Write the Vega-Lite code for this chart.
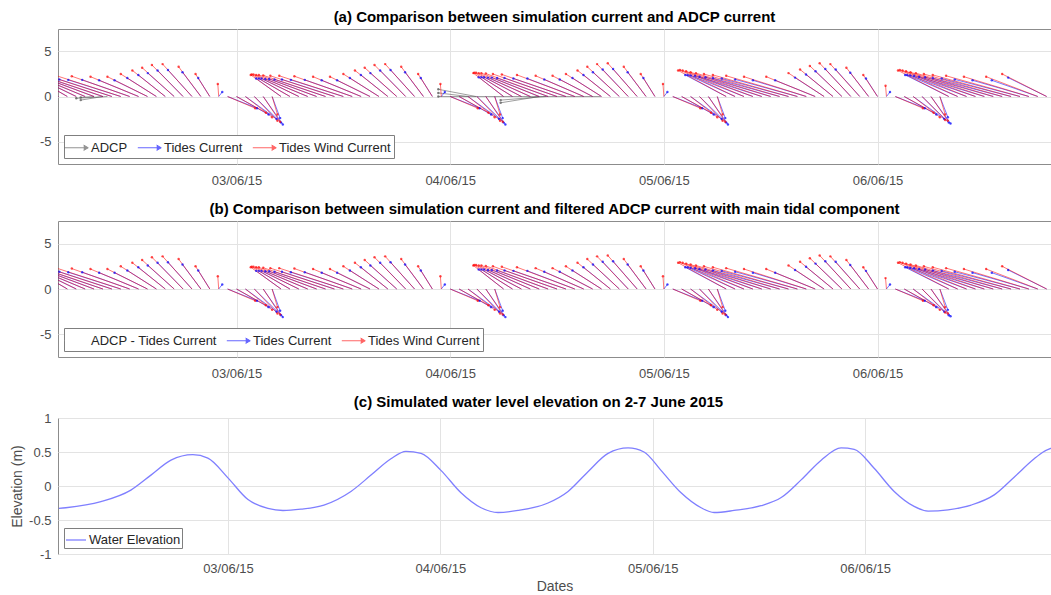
{
"$schema": "https://vega.github.io/schema/vega-lite/v6.json",
"background": "white",
"padding": {"left": 10, "top": 9, "right": 0, "bottom": 0},
"spacing": 13,
"config": {
 "font": "Liberation Sans",
 "view": {"stroke": "#8c8c8c", "strokeWidth": 1},
 "axis": {"labelFont": "Liberation Sans", "labelFontSize": 13, "labelColor": "#4d4d4d", "domain": false, "ticks": false, "grid": true, "gridColor": "#e3e3e3", "titleFont": "Liberation Sans", "titleFontSize": 14, "titleFontWeight": "normal", "titleColor": "#4d4d4d"},
 "axisX": {"labelPadding": 10.5},
 "axisY": {"labelPadding": 7, "titlePadding": 4},
 "title": {"fontSize": 15, "font": "Liberation Sans", "fontWeight": "bold", "color": "#000000", "offset": 4, "anchor": "middle"},
 "legend": {"labelFont": "Liberation Sans", "labelFontSize": 13, "labelColor": "#262626", "strokeColor": "#7f7f7f", "fillColor": "white", "padding": 3, "orient": "bottom-left", "offset": 6, "direction": "horizontal", "title": null, "symbolType": "M-1.3,0L1.3,0M0.8,-0.3L1.3,0L0.8,0.3", "symbolSize": 324, "symbolStrokeWidth": 1, "columnPadding": 7, "labelOffset": 5}
},
"datasets": {
 "arrows": [
  {"s":"ADCP","t":"2015-06-02T09:30","te":"2015-06-02T06:00","v":-0.2},
  {"s":"ADCP","t":"2015-06-02T09:00","te":"2015-06-02T06:30","v":-0.4},
  {"s":"ADCP","t":"2015-06-02T08:00","te":"2015-06-02T06:30","v":-0.1},
  {"s":"ADCP","t":"2015-06-04T02:54","te":"2015-06-03T22:40","v":0.8},
  {"s":"ADCP","t":"2015-06-04T02:00","te":"2015-06-03T22:40","v":0.4},
  {"s":"ADCP","t":"2015-06-04T10:48","te":"2015-06-04T05:40","v":-0.4},
  {"s":"ADCP","t":"2015-06-04T10:00","te":"2015-06-04T05:40","v":-0.7},
  {"s":"ADCP","t":"2015-06-04T16:54","te":"2015-06-03T22:40","v":0},

  {"s":"Tides Current","t":"2015-06-02T04:00","te":"2015-06-02T01:12","v":2.0},
  {"s":"Tides Current","t":"2015-06-02T05:00","te":"2015-06-02T01:30","v":2.0},
  {"s":"Tides Current","t":"2015-06-02T06:00","te":"2015-06-02T01:48","v":2.0},
  {"s":"Tides Current","t":"2015-06-02T07:00","te":"2015-06-02T02:14","v":1.95},
  {"s":"Tides Current","t":"2015-06-02T08:00","te":"2015-06-02T02:40","v":1.95},
  {"s":"Tides Current","t":"2015-06-02T09:00","te":"2015-06-02T03:16","v":1.9},
  {"s":"Tides Current","t":"2015-06-02T10:00","te":"2015-06-02T04:06","v":1.9},
  {"s":"Tides Current","t":"2015-06-02T11:00","te":"2015-06-02T05:06","v":1.85},
  {"s":"Tides Current","t":"2015-06-02T12:00","te":"2015-06-02T06:40","v":1.85},
  {"s":"Tides Current","t":"2015-06-02T13:00","te":"2015-06-02T08:34","v":1.8},
  {"s":"Tides Current","t":"2015-06-02T14:00","te":"2015-06-02T10:18","v":1.8},
  {"s":"Tides Current","t":"2015-06-02T15:00","te":"2015-06-02T11:44","v":2.05},
  {"s":"Tides Current","t":"2015-06-02T16:00","te":"2015-06-02T12:58","v":2.4},
  {"s":"Tides Current","t":"2015-06-02T17:00","te":"2015-06-02T14:02","v":2.6},
  {"s":"Tides Current","t":"2015-06-02T18:00","te":"2015-06-02T15:08","v":2.9},
  {"s":"Tides Current","t":"2015-06-02T19:00","te":"2015-06-02T16:18","v":2.95},
  {"s":"Tides Current","t":"2015-06-02T20:00","te":"2015-06-02T17:56","v":2.7},
  {"s":"Tides Current","t":"2015-06-02T21:00","te":"2015-06-02T19:42","v":2.05},
  {"s":"Tides Current","t":"2015-06-02T22:00","te":"2015-06-02T22:24","v":0.5},
  {"s":"Tides Current","t":"2015-06-02T23:00","te":"2015-06-03T02:18","v":-1.3},
  {"s":"Tides Current","t":"2015-06-03T00:00","te":"2015-06-03T03:36","v":-2.0},
  {"s":"Tides Current","t":"2015-06-03T01:00","te":"2015-06-03T04:30","v":-2.5},
  {"s":"Tides Current","t":"2015-06-03T02:00","te":"2015-06-03T05:00","v":-2.9},
  {"s":"Tides Current","t":"2015-06-03T03:00","te":"2015-06-03T05:12","v":-3.1},
  {"s":"Tides Current","t":"2015-06-03T04:00","te":"2015-06-03T04:54","v":-2.4},
  {"s":"Tides Current","t":"2015-06-03T05:00","te":"2015-06-03T02:12","v":2.0},
  {"s":"Tides Current","t":"2015-06-03T06:00","te":"2015-06-03T02:30","v":2.0},
  {"s":"Tides Current","t":"2015-06-03T07:00","te":"2015-06-03T02:48","v":2.0},
  {"s":"Tides Current","t":"2015-06-03T08:00","te":"2015-06-03T03:14","v":1.95},
  {"s":"Tides Current","t":"2015-06-03T09:00","te":"2015-06-03T03:40","v":1.95},
  {"s":"Tides Current","t":"2015-06-03T10:00","te":"2015-06-03T04:16","v":1.9},
  {"s":"Tides Current","t":"2015-06-03T11:00","te":"2015-06-03T05:06","v":1.9},
  {"s":"Tides Current","t":"2015-06-03T12:00","te":"2015-06-03T06:06","v":1.85},
  {"s":"Tides Current","t":"2015-06-03T13:00","te":"2015-06-03T07:40","v":1.85},
  {"s":"Tides Current","t":"2015-06-03T14:00","te":"2015-06-03T09:34","v":1.8},
  {"s":"Tides Current","t":"2015-06-03T15:00","te":"2015-06-03T11:18","v":1.8},
  {"s":"Tides Current","t":"2015-06-03T16:00","te":"2015-06-03T12:44","v":2.05},
  {"s":"Tides Current","t":"2015-06-03T17:00","te":"2015-06-03T13:58","v":2.4},
  {"s":"Tides Current","t":"2015-06-03T18:00","te":"2015-06-03T15:02","v":2.6},
  {"s":"Tides Current","t":"2015-06-03T19:00","te":"2015-06-03T16:08","v":2.9},
  {"s":"Tides Current","t":"2015-06-03T20:00","te":"2015-06-03T17:18","v":2.95},
  {"s":"Tides Current","t":"2015-06-03T21:00","te":"2015-06-03T18:56","v":2.7},
  {"s":"Tides Current","t":"2015-06-03T22:00","te":"2015-06-03T20:42","v":2.05},
  {"s":"Tides Current","t":"2015-06-03T23:00","te":"2015-06-03T23:24","v":0.5},
  {"s":"Tides Current","t":"2015-06-04T00:00","te":"2015-06-04T03:18","v":-1.3},
  {"s":"Tides Current","t":"2015-06-04T01:00","te":"2015-06-04T04:36","v":-2.0},
  {"s":"Tides Current","t":"2015-06-04T02:00","te":"2015-06-04T05:30","v":-2.5},
  {"s":"Tides Current","t":"2015-06-04T03:00","te":"2015-06-04T06:00","v":-2.9},
  {"s":"Tides Current","t":"2015-06-04T04:00","te":"2015-06-04T06:12","v":-3.1},
  {"s":"Tides Current","t":"2015-06-04T05:00","te":"2015-06-04T05:54","v":-2.4},
  {"s":"Tides Current","t":"2015-06-04T06:00","te":"2015-06-04T03:12","v":2.15},
  {"s":"Tides Current","t":"2015-06-04T07:00","te":"2015-06-04T03:30","v":2.15},
  {"s":"Tides Current","t":"2015-06-04T08:00","te":"2015-06-04T03:48","v":2.15},
  {"s":"Tides Current","t":"2015-06-04T09:00","te":"2015-06-04T04:14","v":2.1},
  {"s":"Tides Current","t":"2015-06-04T10:00","te":"2015-06-04T04:40","v":2.1},
  {"s":"Tides Current","t":"2015-06-04T11:00","te":"2015-06-04T05:16","v":2.05},
  {"s":"Tides Current","t":"2015-06-04T12:00","te":"2015-06-04T06:06","v":2.05},
  {"s":"Tides Current","t":"2015-06-04T13:00","te":"2015-06-04T07:06","v":2.0},
  {"s":"Tides Current","t":"2015-06-04T14:00","te":"2015-06-04T08:40","v":2.0},
  {"s":"Tides Current","t":"2015-06-04T15:00","te":"2015-06-04T10:34","v":1.9},
  {"s":"Tides Current","t":"2015-06-04T16:00","te":"2015-06-04T12:18","v":1.9},
  {"s":"Tides Current","t":"2015-06-04T17:00","te":"2015-06-04T13:44","v":2.05},
  {"s":"Tides Current","t":"2015-06-04T18:00","te":"2015-06-04T14:58","v":2.4},
  {"s":"Tides Current","t":"2015-06-04T19:00","te":"2015-06-04T16:02","v":2.7},
  {"s":"Tides Current","t":"2015-06-04T20:00","te":"2015-06-04T17:08","v":3.0},
  {"s":"Tides Current","t":"2015-06-04T21:00","te":"2015-06-04T18:18","v":3.05},
  {"s":"Tides Current","t":"2015-06-04T22:00","te":"2015-06-04T19:56","v":2.7},
  {"s":"Tides Current","t":"2015-06-04T23:00","te":"2015-06-04T21:42","v":2.05},
  {"s":"Tides Current","t":"2015-06-05T00:00","te":"2015-06-05T00:24","v":0.5},
  {"s":"Tides Current","t":"2015-06-05T01:00","te":"2015-06-05T04:18","v":-1.3},
  {"s":"Tides Current","t":"2015-06-05T02:00","te":"2015-06-05T05:36","v":-2.0},
  {"s":"Tides Current","t":"2015-06-05T03:00","te":"2015-06-05T06:30","v":-2.5},
  {"s":"Tides Current","t":"2015-06-05T04:00","te":"2015-06-05T07:00","v":-2.9},
  {"s":"Tides Current","t":"2015-06-05T05:00","te":"2015-06-05T07:12","v":-3.1},
  {"s":"Tides Current","t":"2015-06-05T06:00","te":"2015-06-05T06:54","v":-2.4},
  {"s":"Tides Current","t":"2015-06-05T07:00","te":"2015-06-05T02:24","v":2.4},
  {"s":"Tides Current","t":"2015-06-05T08:00","te":"2015-06-05T02:40","v":2.4},
  {"s":"Tides Current","t":"2015-06-05T09:00","te":"2015-06-05T03:00","v":2.35},
  {"s":"Tides Current","t":"2015-06-05T10:00","te":"2015-06-05T03:30","v":2.3},
  {"s":"Tides Current","t":"2015-06-05T11:00","te":"2015-06-05T04:00","v":2.2},
  {"s":"Tides Current","t":"2015-06-05T12:00","te":"2015-06-05T04:40","v":2.15},
  {"s":"Tides Current","t":"2015-06-05T13:00","te":"2015-06-05T05:30","v":2.05},
  {"s":"Tides Current","t":"2015-06-05T14:00","te":"2015-06-05T06:30","v":2.0},
  {"s":"Tides Current","t":"2015-06-05T15:00","te":"2015-06-05T08:00","v":1.9},
  {"s":"Tides Current","t":"2015-06-05T16:00","te":"2015-06-05T10:00","v":1.8},
  {"s":"Tides Current","t":"2015-06-05T17:00","te":"2015-06-05T12:30","v":1.8},
  {"s":"Tides Current","t":"2015-06-05T18:00","te":"2015-06-05T14:44","v":2.1},
  {"s":"Tides Current","t":"2015-06-05T19:00","te":"2015-06-05T15:58","v":2.45},
  {"s":"Tides Current","t":"2015-06-05T20:00","te":"2015-06-05T17:02","v":2.8},
  {"s":"Tides Current","t":"2015-06-05T21:00","te":"2015-06-05T18:08","v":3.05},
  {"s":"Tides Current","t":"2015-06-05T22:00","te":"2015-06-05T19:18","v":3.0},
  {"s":"Tides Current","t":"2015-06-05T23:00","te":"2015-06-05T20:56","v":2.65},
  {"s":"Tides Current","t":"2015-06-06T00:00","te":"2015-06-05T22:42","v":2.0},
  {"s":"Tides Current","t":"2015-06-06T01:00","te":"2015-06-06T01:24","v":0.5},
  {"s":"Tides Current","t":"2015-06-06T02:00","te":"2015-06-06T05:18","v":-1.3},
  {"s":"Tides Current","t":"2015-06-06T03:00","te":"2015-06-06T06:36","v":-2.0},
  {"s":"Tides Current","t":"2015-06-06T04:00","te":"2015-06-06T07:30","v":-2.5},
  {"s":"Tides Current","t":"2015-06-06T05:00","te":"2015-06-06T08:00","v":-2.9},
  {"s":"Tides Current","t":"2015-06-06T06:00","te":"2015-06-06T08:12","v":-3.0},
  {"s":"Tides Current","t":"2015-06-06T07:00","te":"2015-06-06T07:54","v":-2.3},
  {"s":"Tides Current","t":"2015-06-06T08:00","te":"2015-06-06T03:06","v":2.4},
  {"s":"Tides Current","t":"2015-06-06T09:00","te":"2015-06-06T03:20","v":2.4},
  {"s":"Tides Current","t":"2015-06-06T10:00","te":"2015-06-06T03:40","v":2.35},
  {"s":"Tides Current","t":"2015-06-06T11:00","te":"2015-06-06T04:06","v":2.3},
  {"s":"Tides Current","t":"2015-06-06T12:00","te":"2015-06-06T04:40","v":2.2},
  {"s":"Tides Current","t":"2015-06-06T13:00","te":"2015-06-06T05:20","v":2.15},
  {"s":"Tides Current","t":"2015-06-06T14:00","te":"2015-06-06T06:12","v":2.05},
  {"s":"Tides Current","t":"2015-06-06T15:00","te":"2015-06-06T07:12","v":2.0},
  {"s":"Tides Current","t":"2015-06-06T16:00","te":"2015-06-06T08:40","v":1.9},
  {"s":"Tides Current","t":"2015-06-06T17:00","te":"2015-06-06T10:40","v":1.8},
  {"s":"Tides Current","t":"2015-06-06T18:00","te":"2015-06-06T12:50","v":1.8},
  {"s":"Tides Current","t":"2015-06-06T19:00","te":"2015-06-06T14:40","v":2.1},

  {"s":"Tides Wind Current","t":"2015-06-02T04:00","te":"2015-06-02T00:36","v":2.4},
  {"s":"Tides Wind Current","t":"2015-06-02T05:00","te":"2015-06-02T00:42","v":2.45},
  {"s":"Tides Wind Current","t":"2015-06-02T06:00","te":"2015-06-02T00:54","v":2.45},
  {"s":"Tides Wind Current","t":"2015-06-02T07:00","te":"2015-06-02T01:12","v":2.4},
  {"s":"Tides Wind Current","t":"2015-06-02T08:00","te":"2015-06-02T01:30","v":2.4},
  {"s":"Tides Wind Current","t":"2015-06-02T09:00","te":"2015-06-02T02:00","v":2.35},
  {"s":"Tides Wind Current","t":"2015-06-02T10:00","te":"2015-06-02T02:48","v":2.3},
  {"s":"Tides Wind Current","t":"2015-06-02T11:00","te":"2015-06-02T03:48","v":2.3},
  {"s":"Tides Wind Current","t":"2015-06-02T12:00","te":"2015-06-02T05:30","v":2.25},
  {"s":"Tides Wind Current","t":"2015-06-02T13:00","te":"2015-06-02T07:36","v":2.2},
  {"s":"Tides Wind Current","t":"2015-06-02T14:00","te":"2015-06-02T09:30","v":2.2},
  {"s":"Tides Wind Current","t":"2015-06-02T15:00","te":"2015-06-02T11:00","v":2.5},
  {"s":"Tides Wind Current","t":"2015-06-02T16:00","te":"2015-06-02T12:18","v":2.9},
  {"s":"Tides Wind Current","t":"2015-06-02T17:00","te":"2015-06-02T13:24","v":3.2},
  {"s":"Tides Wind Current","t":"2015-06-02T18:00","te":"2015-06-02T14:30","v":3.5},
  {"s":"Tides Wind Current","t":"2015-06-02T19:00","te":"2015-06-02T15:42","v":3.6},
  {"s":"Tides Wind Current","t":"2015-06-02T20:00","te":"2015-06-02T17:30","v":3.3},
  {"s":"Tides Wind Current","t":"2015-06-02T21:00","te":"2015-06-02T19:24","v":2.5},
  {"s":"Tides Wind Current","t":"2015-06-02T22:00","te":"2015-06-02T21:54","v":1.4},
  {"s":"Tides Wind Current","t":"2015-06-02T23:00","te":"2015-06-03T02:06","v":-1.3},
  {"s":"Tides Wind Current","t":"2015-06-03T00:00","te":"2015-06-03T03:18","v":-1.8},
  {"s":"Tides Wind Current","t":"2015-06-03T01:00","te":"2015-06-03T04:00","v":-2.3},
  {"s":"Tides Wind Current","t":"2015-06-03T02:00","te":"2015-06-03T04:36","v":-2.7},
  {"s":"Tides Wind Current","t":"2015-06-03T03:00","te":"2015-06-03T04:54","v":-2.8},
  {"s":"Tides Wind Current","t":"2015-06-03T04:00","te":"2015-06-03T04:36","v":-2.0},
  {"s":"Tides Wind Current","t":"2015-06-03T05:00","te":"2015-06-03T01:36","v":2.4},
  {"s":"Tides Wind Current","t":"2015-06-03T06:00","te":"2015-06-03T01:42","v":2.45},
  {"s":"Tides Wind Current","t":"2015-06-03T07:00","te":"2015-06-03T01:54","v":2.45},
  {"s":"Tides Wind Current","t":"2015-06-03T08:00","te":"2015-06-03T02:12","v":2.4},
  {"s":"Tides Wind Current","t":"2015-06-03T09:00","te":"2015-06-03T02:30","v":2.4},
  {"s":"Tides Wind Current","t":"2015-06-03T10:00","te":"2015-06-03T03:00","v":2.35},
  {"s":"Tides Wind Current","t":"2015-06-03T11:00","te":"2015-06-03T03:48","v":2.3},
  {"s":"Tides Wind Current","t":"2015-06-03T12:00","te":"2015-06-03T04:48","v":2.3},
  {"s":"Tides Wind Current","t":"2015-06-03T13:00","te":"2015-06-03T06:30","v":2.25},
  {"s":"Tides Wind Current","t":"2015-06-03T14:00","te":"2015-06-03T08:36","v":2.2},
  {"s":"Tides Wind Current","t":"2015-06-03T15:00","te":"2015-06-03T10:30","v":2.2},
  {"s":"Tides Wind Current","t":"2015-06-03T16:00","te":"2015-06-03T12:00","v":2.5},
  {"s":"Tides Wind Current","t":"2015-06-03T17:00","te":"2015-06-03T13:18","v":2.9},
  {"s":"Tides Wind Current","t":"2015-06-03T18:00","te":"2015-06-03T14:24","v":3.2},
  {"s":"Tides Wind Current","t":"2015-06-03T19:00","te":"2015-06-03T15:30","v":3.5},
  {"s":"Tides Wind Current","t":"2015-06-03T20:00","te":"2015-06-03T16:42","v":3.6},
  {"s":"Tides Wind Current","t":"2015-06-03T21:00","te":"2015-06-03T18:30","v":3.3},
  {"s":"Tides Wind Current","t":"2015-06-03T22:00","te":"2015-06-03T20:24","v":2.5},
  {"s":"Tides Wind Current","t":"2015-06-03T23:00","te":"2015-06-03T22:54","v":1.4},
  {"s":"Tides Wind Current","t":"2015-06-04T00:00","te":"2015-06-04T03:06","v":-1.3},
  {"s":"Tides Wind Current","t":"2015-06-04T01:00","te":"2015-06-04T04:18","v":-1.8},
  {"s":"Tides Wind Current","t":"2015-06-04T02:00","te":"2015-06-04T05:00","v":-2.3},
  {"s":"Tides Wind Current","t":"2015-06-04T03:00","te":"2015-06-04T05:36","v":-2.7},
  {"s":"Tides Wind Current","t":"2015-06-04T04:00","te":"2015-06-04T05:54","v":-2.8},
  {"s":"Tides Wind Current","t":"2015-06-04T05:00","te":"2015-06-04T05:36","v":-2.0},
  {"s":"Tides Wind Current","t":"2015-06-04T06:00","te":"2015-06-04T02:36","v":2.6},
  {"s":"Tides Wind Current","t":"2015-06-04T07:00","te":"2015-06-04T02:42","v":2.65},
  {"s":"Tides Wind Current","t":"2015-06-04T08:00","te":"2015-06-04T02:54","v":2.65},
  {"s":"Tides Wind Current","t":"2015-06-04T09:00","te":"2015-06-04T03:12","v":2.6},
  {"s":"Tides Wind Current","t":"2015-06-04T10:00","te":"2015-06-04T03:30","v":2.6},
  {"s":"Tides Wind Current","t":"2015-06-04T11:00","te":"2015-06-04T04:00","v":2.55},
  {"s":"Tides Wind Current","t":"2015-06-04T12:00","te":"2015-06-04T04:48","v":2.5},
  {"s":"Tides Wind Current","t":"2015-06-04T13:00","te":"2015-06-04T05:48","v":2.45},
  {"s":"Tides Wind Current","t":"2015-06-04T14:00","te":"2015-06-04T07:30","v":2.4},
  {"s":"Tides Wind Current","t":"2015-06-04T15:00","te":"2015-06-04T09:36","v":2.3},
  {"s":"Tides Wind Current","t":"2015-06-04T16:00","te":"2015-06-04T11:30","v":2.3},
  {"s":"Tides Wind Current","t":"2015-06-04T17:00","te":"2015-06-04T13:00","v":2.5},
  {"s":"Tides Wind Current","t":"2015-06-04T18:00","te":"2015-06-04T14:18","v":2.9},
  {"s":"Tides Wind Current","t":"2015-06-04T19:00","te":"2015-06-04T15:24","v":3.3},
  {"s":"Tides Wind Current","t":"2015-06-04T20:00","te":"2015-06-04T16:30","v":3.6},
  {"s":"Tides Wind Current","t":"2015-06-04T21:00","te":"2015-06-04T17:42","v":3.7},
  {"s":"Tides Wind Current","t":"2015-06-04T22:00","te":"2015-06-04T19:30","v":3.3},
  {"s":"Tides Wind Current","t":"2015-06-04T23:00","te":"2015-06-04T21:24","v":2.5},
  {"s":"Tides Wind Current","t":"2015-06-05T00:00","te":"2015-06-04T23:54","v":1.4},
  {"s":"Tides Wind Current","t":"2015-06-05T01:00","te":"2015-06-05T04:06","v":-1.3},
  {"s":"Tides Wind Current","t":"2015-06-05T02:00","te":"2015-06-05T05:18","v":-1.8},
  {"s":"Tides Wind Current","t":"2015-06-05T03:00","te":"2015-06-05T06:00","v":-2.3},
  {"s":"Tides Wind Current","t":"2015-06-05T04:00","te":"2015-06-05T06:36","v":-2.7},
  {"s":"Tides Wind Current","t":"2015-06-05T05:00","te":"2015-06-05T06:54","v":-2.8},
  {"s":"Tides Wind Current","t":"2015-06-05T06:00","te":"2015-06-05T06:36","v":-2.0},
  {"s":"Tides Wind Current","t":"2015-06-05T07:00","te":"2015-06-05T01:36","v":2.9},
  {"s":"Tides Wind Current","t":"2015-06-05T08:00","te":"2015-06-05T01:48","v":2.95},
  {"s":"Tides Wind Current","t":"2015-06-05T09:00","te":"2015-06-05T02:06","v":2.9},
  {"s":"Tides Wind Current","t":"2015-06-05T10:00","te":"2015-06-05T02:30","v":2.8},
  {"s":"Tides Wind Current","t":"2015-06-05T11:00","te":"2015-06-05T03:00","v":2.7},
  {"s":"Tides Wind Current","t":"2015-06-05T12:00","te":"2015-06-05T03:36","v":2.6},
  {"s":"Tides Wind Current","t":"2015-06-05T13:00","te":"2015-06-05T04:30","v":2.5},
  {"s":"Tides Wind Current","t":"2015-06-05T14:00","te":"2015-06-05T05:30","v":2.4},
  {"s":"Tides Wind Current","t":"2015-06-05T15:00","te":"2015-06-05T07:00","v":2.3},
  {"s":"Tides Wind Current","t":"2015-06-05T16:00","te":"2015-06-05T09:00","v":2.2},
  {"s":"Tides Wind Current","t":"2015-06-05T17:00","te":"2015-06-05T11:30","v":2.2},
  {"s":"Tides Wind Current","t":"2015-06-05T18:00","te":"2015-06-05T14:00","v":2.6},
  {"s":"Tides Wind Current","t":"2015-06-05T19:00","te":"2015-06-05T15:18","v":3.0},
  {"s":"Tides Wind Current","t":"2015-06-05T20:00","te":"2015-06-05T16:24","v":3.4},
  {"s":"Tides Wind Current","t":"2015-06-05T21:00","te":"2015-06-05T17:30","v":3.7},
  {"s":"Tides Wind Current","t":"2015-06-05T22:00","te":"2015-06-05T18:42","v":3.6},
  {"s":"Tides Wind Current","t":"2015-06-05T23:00","te":"2015-06-05T20:30","v":3.2},
  {"s":"Tides Wind Current","t":"2015-06-06T00:00","te":"2015-06-05T22:24","v":2.4},
  {"s":"Tides Wind Current","t":"2015-06-06T01:00","te":"2015-06-06T00:54","v":1.2},
  {"s":"Tides Wind Current","t":"2015-06-06T02:00","te":"2015-06-06T05:06","v":-1.3},
  {"s":"Tides Wind Current","t":"2015-06-06T03:00","te":"2015-06-06T06:18","v":-1.8},
  {"s":"Tides Wind Current","t":"2015-06-06T04:00","te":"2015-06-06T07:00","v":-2.3},
  {"s":"Tides Wind Current","t":"2015-06-06T05:00","te":"2015-06-06T07:36","v":-2.6},
  {"s":"Tides Wind Current","t":"2015-06-06T06:00","te":"2015-06-06T07:54","v":-2.7},
  {"s":"Tides Wind Current","t":"2015-06-06T07:00","te":"2015-06-06T07:36","v":-2.0},
  {"s":"Tides Wind Current","t":"2015-06-06T08:00","te":"2015-06-06T02:18","v":2.9},
  {"s":"Tides Wind Current","t":"2015-06-06T09:00","te":"2015-06-06T02:30","v":2.95},
  {"s":"Tides Wind Current","t":"2015-06-06T10:00","te":"2015-06-06T02:48","v":2.9},
  {"s":"Tides Wind Current","t":"2015-06-06T11:00","te":"2015-06-06T03:12","v":2.8},
  {"s":"Tides Wind Current","t":"2015-06-06T12:00","te":"2015-06-06T03:42","v":2.7},
  {"s":"Tides Wind Current","t":"2015-06-06T13:00","te":"2015-06-06T04:18","v":2.6},
  {"s":"Tides Wind Current","t":"2015-06-06T14:00","te":"2015-06-06T05:12","v":2.5},
  {"s":"Tides Wind Current","t":"2015-06-06T15:00","te":"2015-06-06T06:12","v":2.4},
  {"s":"Tides Wind Current","t":"2015-06-06T16:00","te":"2015-06-06T07:42","v":2.3},
  {"s":"Tides Wind Current","t":"2015-06-06T17:00","te":"2015-06-06T09:42","v":2.2},
  {"s":"Tides Wind Current","t":"2015-06-06T18:00","te":"2015-06-06T12:12","v":2.2},
  {"s":"Tides Wind Current","t":"2015-06-06T19:00","te":"2015-06-06T14:00","v":2.5}
 ],
 "elev": [
  {"time":"2015-06-02T04:54","elev":-0.33},
  {"time":"2015-06-02T05:41","elev":-0.32},
  {"time":"2015-06-02T09:39","elev":-0.23},
  {"time":"2015-06-02T13:02","elev":-0.06},
  {"time":"2015-06-02T15:18","elev":0.16},
  {"time":"2015-06-02T17:34","elev":0.38},
  {"time":"2015-06-02T20:02","elev":0.46},
  {"time":"2015-06-02T21:44","elev":0.41},
  {"time":"2015-06-03T00:00","elev":0.12},
  {"time":"2015-06-03T02:16","elev":-0.2},
  {"time":"2015-06-03T04:31","elev":-0.33},
  {"time":"2015-06-03T06:13","elev":-0.36},
  {"time":"2015-06-03T08:15","elev":-0.34},
  {"time":"2015-06-03T10:51","elev":-0.28},
  {"time":"2015-06-03T13:54","elev":-0.08},
  {"time":"2015-06-03T16:10","elev":0.16},
  {"time":"2015-06-03T18:25","elev":0.4},
  {"time":"2015-06-03T20:07","elev":0.51},
  {"time":"2015-06-03T21:49","elev":0.48},
  {"time":"2015-06-04T00:04","elev":0.23},
  {"time":"2015-06-04T02:20","elev":-0.1},
  {"time":"2015-06-04T04:36","elev":-0.32},
  {"time":"2015-06-04T06:31","elev":-0.39},
  {"time":"2015-06-04T08:47","elev":-0.36},
  {"time":"2015-06-04T12:10","elev":-0.25},
  {"time":"2015-06-04T14:26","elev":-0.08},
  {"time":"2015-06-04T16:41","elev":0.21},
  {"time":"2015-06-04T18:57","elev":0.48},
  {"time":"2015-06-04T21:13","elev":0.56},
  {"time":"2015-06-04T23:01","elev":0.5},
  {"time":"2015-06-05T00:56","elev":0.23},
  {"time":"2015-06-05T03:12","elev":-0.1},
  {"time":"2015-06-05T05:28","elev":-0.32},
  {"time":"2015-06-05T06:56","elev":-0.39},
  {"time":"2015-06-05T09:11","elev":-0.36},
  {"time":"2015-06-05T12:14","elev":-0.29},
  {"time":"2015-06-05T14:31","elev":-0.17},
  {"time":"2015-06-05T16:46","elev":0.09},
  {"time":"2015-06-05T19:02","elev":0.38},
  {"time":"2015-06-05T21:17","elev":0.56},
  {"time":"2015-06-05T22:46","elev":0.54},
  {"time":"2015-06-06T01:01","elev":0.26},
  {"time":"2015-06-06T03:17","elev":-0.08},
  {"time":"2015-06-06T05:32","elev":-0.3},
  {"time":"2015-06-06T07:07","elev":-0.37},
  {"time":"2015-06-06T09:23","elev":-0.35},
  {"time":"2015-06-06T11:59","elev":-0.28},
  {"time":"2015-06-06T14:35","elev":-0.13},
  {"time":"2015-06-06T16:50","elev":0.13},
  {"time":"2015-06-06T19:06","elev":0.4},
  {"time":"2015-06-06T20:07","elev":0.5},
  {"time":"2015-06-06T21:30","elev":0.58}
 ]
},
"vconcat": [
 {
  "title": {"text": "(a) Comparison between simulation current and ADCP current"},
  "width": 993, "height": 135,
  "data": {"name": "arrows"},
  "encoding": {
   "x": {"field": "te", "type": "temporal", "scale": {"domain": [{"year": 2015, "month": 6, "date": 2, "hours": 3, "minutes": 57}, {"year": 2015, "month": 6, "date": 6, "hours": 19, "minutes": 29}]}, "axis": {"title": null, "format": "%d/%m/%y", "values": [{"year": 2015, "month": 6, "date": 3}, {"year": 2015, "month": 6, "date": 4}, {"year": 2015, "month": 6, "date": 5}, {"year": 2015, "month": 6, "date": 6}]}},
   "y": {"field": "v", "type": "quantitative", "scale": {"domain": [-7.5, 7.5], "nice": false}, "axis": {"title": null, "values": [-5, 0, 5], "labelExpr": "'' + datum.value"}},
   "color": {"field": "s", "type": "nominal", "scale": {"domain": ["ADCP", "Tides Current", "Tides Wind Current"], "range": ["#4d4d4d", "#0000ff", "#ff0000"]}}
  },
  "layer": [
   {"mark": {"type": "rule", "strokeWidth": 0.9, "opacity": 0.6, "clip": true},
    "encoding": {"x2": {"field": "t"}, "y2": {"datum": 0}}},
   {"mark": {"type": "point", "filled": true, "size": 6, "opacity": 0.7, "clip": true},
    "encoding": {}}
  ]
 },
 {
  "title": {"text": "(b) Comparison between simulation current and filtered ADCP current with main tidal component"},
  "width": 993, "height": 136,
  "data": {"name": "arrows"},
  "transform": [{"filter": "datum.s != 'ADCP'"}],
  "encoding": {
   "x": {"field": "te", "type": "temporal", "scale": {"domain": [{"year": 2015, "month": 6, "date": 2, "hours": 3, "minutes": 57}, {"year": 2015, "month": 6, "date": 6, "hours": 19, "minutes": 29}]}, "axis": {"title": null, "format": "%d/%m/%y", "values": [{"year": 2015, "month": 6, "date": 3}, {"year": 2015, "month": 6, "date": 4}, {"year": 2015, "month": 6, "date": 5}, {"year": 2015, "month": 6, "date": 6}]}},
   "y": {"field": "v", "type": "quantitative", "scale": {"domain": [-7.5, 7.5], "nice": false}, "axis": {"title": null, "values": [-5, 0, 5], "labelExpr": "'' + datum.value"}},
   "color": {"field": "s", "type": "nominal", "scale": {"domain": ["ADCP - Tides Current", "Tides Current", "Tides Wind Current"], "range": ["#ffffff", "#0000ff", "#ff0000"]}}
  },
  "layer": [
   {"mark": {"type": "rule", "strokeWidth": 0.9, "opacity": 0.6, "clip": true},
    "encoding": {"x2": {"field": "t"}, "y2": {"datum": 0}}},
   {"mark": {"type": "point", "filled": true, "size": 6, "opacity": 0.7, "clip": true},
    "encoding": {}}
  ]
 },
 {
  "title": {"text": "(c) Simulated water level elevation on 2-7 June 2015", "offset": 2, "dx": -16},
  "width": 993, "height": 136,
  "data": {"name": "elev"},
  "mark": {"type": "line", "strokeWidth": 1.3, "interpolate": "monotone", "clip": true},
  "encoding": {
   "x": {"field": "time", "type": "temporal", "scale": {"domain": [{"year": 2015, "month": 6, "date": 2, "hours": 4, "minutes": 48}, {"year": 2015, "month": 6, "date": 6, "hours": 21, "minutes": 0}]}, "axis": {"title": "Dates", "labelPadding": 8, "titlePadding": 4, "format": "%d/%m/%y", "values": [{"year": 2015, "month": 6, "date": 3}, {"year": 2015, "month": 6, "date": 4}, {"year": 2015, "month": 6, "date": 5}, {"year": 2015, "month": 6, "date": 6}]}},
   "y": {"field": "elev", "type": "quantitative", "scale": {"domain": [-1, 1], "nice": false}, "axis": {"title": "Elevation (m)", "values": [-1, -0.5, 0, 0.5, 1], "labelExpr": "'' + datum.value"}},
   "color": {"datum": "Water Elevation", "type": "nominal", "scale": {"range": ["#7f7fff"]}, "legend": {"direction": "vertical", "symbolType": "stroke", "symbolSize": 400, "symbolStrokeWidth": 1.3, "padding": 1, "labelOffset": 2}}
  }
 }
],
"resolve": {"scale": {"x": "independent", "y": "independent", "color": "independent"}, "legend": {"color": "independent"}}
}
